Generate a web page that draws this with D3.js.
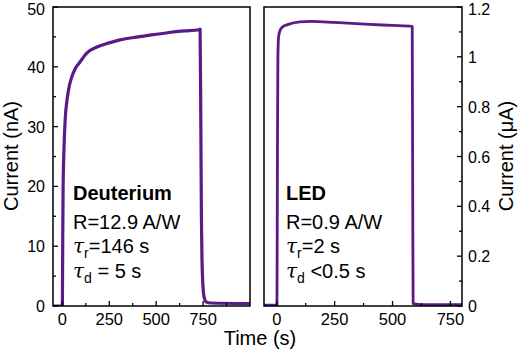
<!DOCTYPE html>
<html>
<head>
<meta charset="utf-8">
<script src="https://cdn.jsdelivr.net/npm/d3@7"></script>
<style>
  body { margin: 0; background: #fff; }
  svg { display: block; font-family: "Liberation Sans", Arial, sans-serif; }
</style>
</head>
<body>
<div id="main_plot"></div>
<script>
// data
var deut_time = [-50, -5, 0, 2, 4, 8, 15, 25, 37, 50, 67, 94, 130, 184, 250, 307, 380, 466, 560, 650, 728, 734,
                 738, 741, 744, 748, 752, 758, 766, 790, 1000];
var deut_current = [0, 0, 0, 12, 20, 25.7, 31.2, 34.5, 36.8, 38.3, 39.6, 40.8, 42.3, 43.3, 44.0, 44.5, 44.9, 45.3, 45.7, 46.0, 46.2, 46.3,
                    30, 15, 8, 4, 2.2, 1.2, 0.7, 0.5, 0.4];
var led_time = [-55, 1, 3, 5, 8, 14, 25, 50, 100, 150, 250, 400, 500, 585, 587, 589, 650, 800];
var led_current = [0.003, 0.003, 0.6, 1.0, 1.08, 1.105, 1.12, 1.13, 1.14, 1.142, 1.138, 1.13, 1.126, 1.122, 0.5, 0.01, 0.005, 0.005];

var left_yticks = [0, 10, 20, 30, 40, 50];
var right_yticks = [0, 0.2, 0.4, 0.6, 0.8, 1, 1.2];
var xticks = [0, 250, 500, 750];

var deut_notes = ["Deuterium", "R=12.9 A/W", ["r", "=146 s"], ["d", " = 5 s"]];
var led_notes = ["LED", "R=0.9 A/W", ["r", "=2 s"], ["d", " <0.5 s"]];

var line_color = "#5a1a88";

// set the dimensions
var W = 520, H = 354;
var plotTop = 7, plotBottom = 306;

var svg = d3.select("div#main_plot")
  .append("svg")
  .attr("width", W)
  .attr("height", H);

// scales for the two panels
var x1 = d3.scaleLinear().domain([-50, 1000]).range([53, 250]);
var y1 = d3.scaleLinear().domain([0, 50]).range([plotBottom, plotTop]);
var x2 = d3.scaleLinear().domain([-55, 800]).range([264, 462]);
var y2 = d3.scaleLinear().domain([0, 1.2]).range([plotBottom, plotTop]);

// draws one panel: frame, inward ticks, curve, notes
function drawPanel(x, y, times, values, yMajor, yMinorStep, xMinor, side, notes, clipId, lw) {
  var g = svg.append("g");

  g.append("clipPath").attr("id", clipId)
    .append("rect")
      .attr("x", x.range()[0]).attr("y", plotTop)
      .attr("width", x.range()[1] - x.range()[0])
      .attr("height", plotBottom - plotTop);

  // the curve
  var pts = d3.zip(times, values);
  g.append("path")
    .datum(pts)
    .attr("clip-path", "url(#" + clipId + ")")
    .attr("fill", "none")
    .attr("stroke", line_color)
    .attr("stroke-width", lw)
    .attr("stroke-linejoin", "round")
    .attr("d", d3.line()
      .curve(d3.curveMonotoneX)
        .x(function(d) { return x(d[0]); })
        .y(function(d) { return y(d[1]); })
    );

  // frame
  g.append("rect")
    .attr("x", x.range()[0]).attr("y", plotTop)
    .attr("width", x.range()[1] - x.range()[0])
    .attr("height", plotBottom - plotTop)
    .attr("fill", "none")
    .attr("stroke", "#000")
    .attr("stroke-width", 1.5);

  // x ticks, pointing inward
  var xAll = xticks.map(function(t) { return [t, 5]; })
    .concat(xMinor.map(function(t) { return [t, 3]; }));
  g.selectAll(".xt").data(xAll).enter().append("line")
    .attr("x1", function(d) { return x(d[0]); })
    .attr("x2", function(d) { return x(d[0]); })
    .attr("y1", plotBottom)
    .attr("y2", function(d) { return plotBottom - d[1]; })
    .attr("stroke", "#000").attr("stroke-width", 1.3);

  g.selectAll(".xl").data(xticks).enter().append("text")
    .attr("x", function(d) { return x(d); })
    .attr("y", 325)
    .attr("text-anchor", "middle")
    .attr("font-size", 16.5)
    .text(function(d) { return d; });

  // y ticks on the outer side
  var axisX = side == "left" ? x.range()[0] : x.range()[1];
  var dir = side == "left" ? 1 : -1;
  var yMax = y.domain()[1];
  var yAll = [];
  for (var v = 0; v <= yMax + 1e-9; v += yMinorStep) {
    var isMajor = yMajor.some(function(m) { return Math.abs(m - v) < 1e-6; });
    yAll.push([v, isMajor ? 5 : 3]);
  }
  g.selectAll(".yt").data(yAll).enter().append("line")
    .attr("x1", axisX)
    .attr("x2", function(d) { return axisX + dir * d[1]; })
    .attr("y1", function(d) { return y(d[0]); })
    .attr("y2", function(d) { return y(d[0]); })
    .attr("stroke", "#000").attr("stroke-width", 1.3);

  // labels centred on the tick; the top one is kept inside the picture
  g.selectAll(".yl").data(yMajor).enter().append("text")
    .attr("x", side == "left" ? axisX - 8 : axisX + 6)
    .attr("y", function(d) { return Math.max(y(d) + 6, 14.5); })
    .attr("text-anchor", side == "left" ? "end" : "start")
    .attr("font-size", 16)
    .text(function(d) { return d; });

  // annotation block
  var nx = x.range()[0] + (side == "left" ? 20 : 22);
  var baselines = [200, 229, 253, 278];
  notes.forEach(function(n, i) {
    var t = g.append("text")
      .attr("x", nx)
      .attr("y", baselines[i])
      .attr("font-size", 20);
    if (typeof n === "string") {
      t.text(n).attr("font-weight", i == 0 ? "bold" : "normal");
    } else {
      t.append("tspan").attr("font-style", "italic")
        .attr("font-family", "'DejaVu Serif', serif").text("\u03C4");
      t.append("tspan").attr("font-size", 14).attr("dy", 5).text(n[0]);
      t.append("tspan").attr("dy", -5).text(n[1]);
    }
  });
}

drawPanel(x1, y1, deut_time, deut_current, left_yticks, 5, [125, 375, 625, 875], "left", deut_notes, "clipL", 3.2);
drawPanel(x2, y2, led_time, led_current, right_yticks, 0.1, [125, 375, 625], "right", led_notes, "clipR", 2.8);

// axis titles
svg.append("text")
  .attr("transform", "translate(18,156) rotate(-90)")
  .attr("text-anchor", "middle")
  .attr("font-size", 20)
  .text("Current (nA)");

svg.append("text")
  .attr("transform", "translate(513,156) rotate(-90)")
  .attr("text-anchor", "middle")
  .attr("font-size", 20)
  .text("Current (\u03BCA)");

svg.append("text")
  .attr("x", 260)
  .attr("y", 345)
  .attr("text-anchor", "middle")
  .attr("font-size", 20)
  .text("Time (s)");
</script>
</body>
</html>
